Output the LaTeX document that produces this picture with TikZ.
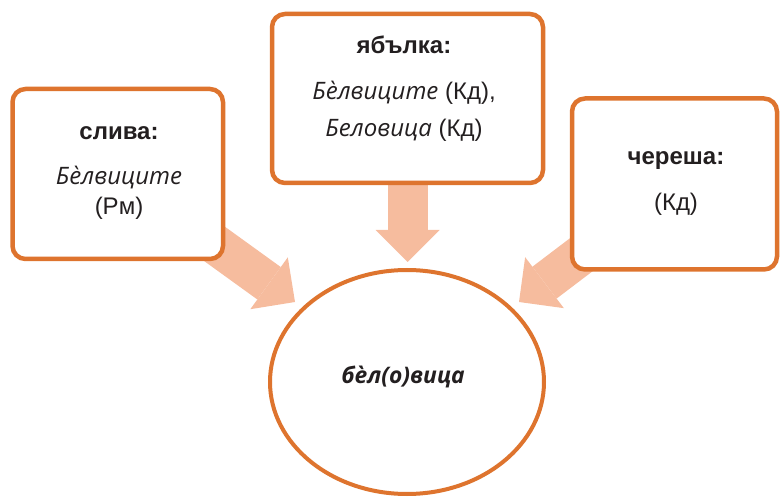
\documentclass[tikz,border=0pt]{standalone}
\usepackage{fontspec}
\setmainfont{Liberation Sans}
% italic Cyrillic with true cursive letterforms
\newfontfamily\cursivecyr{Open Sans}[ItalicFeatures={Scale=1.0},BoldItalicFeatures={Scale=0.95}]
\newcommand{\cit}[1]{{\cursivecyr\itshape #1}}
\newcommand{\cbit}[1]{{\cursivecyr\bfseries\itshape #1}}
\usetikzlibrary{arrows.meta,shapes.geometric,backgrounds}
\definecolor{boxorange}{RGB}{222,116,46}
\definecolor{arrowpeach}{RGB}{246,188,158}
\definecolor{ink}{RGB}{35,31,32}
\begin{document}
\begin{tikzpicture}[x=1pt,y=-1pt,
  card/.style={draw=boxorange, line width=4.5pt, rounded corners=13pt, fill=white,
    rectangle, inner sep=0pt},
  oval/.style={draw=boxorange, line width=4pt, ellipse, fill=white, inner sep=0pt},
  fat/.style={draw=arrowpeach, line width=40pt,
    -{Triangle[width=64pt,length=32pt,line width=0pt]}},
  txt/.style={anchor=base, text=ink, font=\fontsize{24}{29}\selectfont, inner sep=0pt},
]
\useasboundingbox (0,0) rectangle (782,497);

% source cards
\node[card, minimum width=210.5pt, minimum height=170pt] (plum)   at (117.75,174) {};
\node[card, minimum width=271pt,   minimum height=169pt] (apple)  at (407.5,98.5) {};
\node[card, minimum width=205pt,   minimum height=171pt] (cherry) at (674.5,184) {};

% common form
\node[oval, minimum width=274pt, minimum height=224pt] (root) at (407,382) {};

% arrow tips, just short of the oval
\coordinate (plumtip)   at (295,302);
\coordinate (appletip)  at (407.5,262);
\coordinate (cherrytip) at (519,302);

\begin{pgfonlayer}{background}
  \draw[fat] (plum.center)   -- (plumtip);
  \draw[fat] (apple.center)  -- (appletip);
  \draw[fat] (cherry.center) -- (cherrytip);
\end{pgfonlayer}

% texts
\node[txt] (plumhead)  at (119,140) {\textbf{слива:}};
\node[txt] (plumname)  at (119,185) {\cit{Бѐлвиците}};
\node[txt] (plumsrc)   at (119,215) {(Рм)};

\node[txt] (applehead) at (404,54)  {\textbf{ябълка:}};
\node[txt] (applea)    at (404,100) {\cit{Бѐлвиците} (Кд),};
\node[txt] (appleb)    at (404,137) {\cit{Беловица} (Кд)};

\node[txt] (cherryhead) at (676,165) {\textbf{череша:}};
\node[txt] (cherrysrc)  at (676,211) {(Кд)};

\node[txt] (rootword) at (403,383) {\cbit{бѐл(о)вица}};
\end{tikzpicture}
\end{document}
